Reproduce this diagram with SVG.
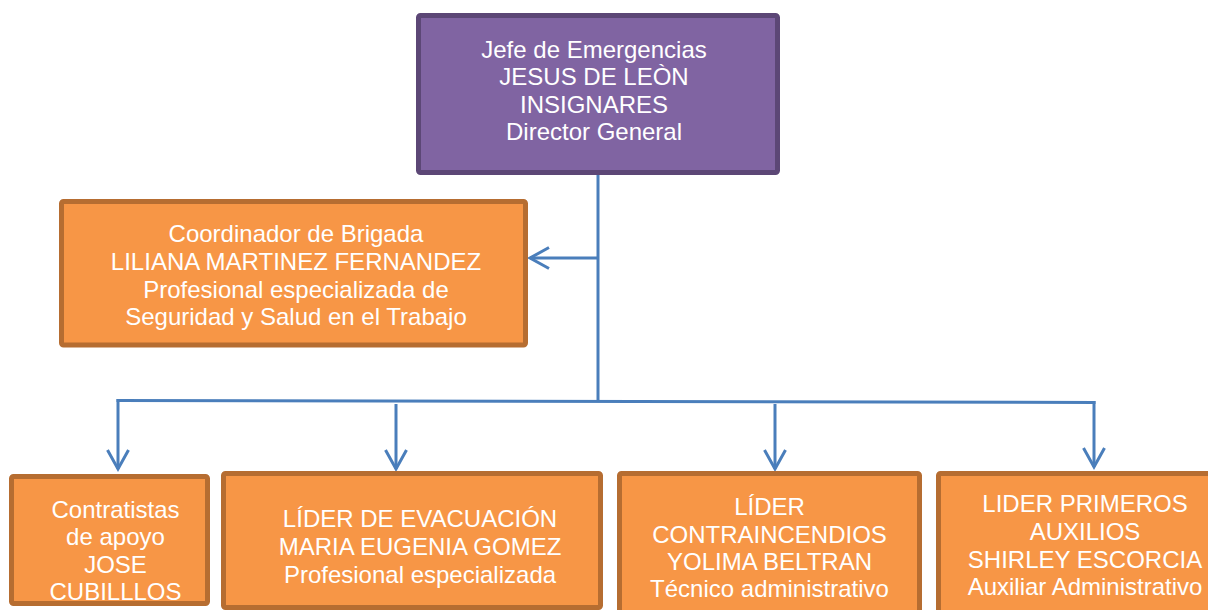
<svg xmlns="http://www.w3.org/2000/svg" width="1208" height="610" viewBox="0 0 1208 610">
<style>
.box{fill:#f79646;stroke:#b66d31;stroke-width:5}
.top{fill:#8064a2;stroke:#5c4776;stroke-width:5}
text{font-family:"Liberation Sans",Arial,sans-serif;font-size:24px;fill:#ffffff;text-anchor:middle}
.con{fill:none;stroke:#4a7ebb;stroke-width:3}
.arr{marker-end:url(#arr)}
</style>
<defs>
<marker id="arr" markerUnits="userSpaceOnUse" viewBox="-24 -14 28 28" markerWidth="28" markerHeight="28" refX="0" refY="0" orient="auto">
<path d="M-19,-10.5 L0,0 L-19,10.5" fill="none" stroke="#4a7ebb" stroke-width="3"/>
</marker>
</defs>
<rect width="1208" height="610" fill="#ffffff"/>
<g id="connectors">
<path class="con" d="M598,173 V401"/>
<path class="con arr" d="M598,258 H530"/>
<path class="con" d="M116.5,400.5 L1095.5,402.5"/>
<path class="con arr" d="M118,399 V469"/>
<path class="con arr" d="M396,404 V469"/>
<path class="con arr" d="M775,404 V469"/>
<path class="con arr" d="M1094,401 V467"/>
</g>
<g id="jefe">
<rect class="top" x="418.5" y="15.5" width="359" height="157" rx="2"/>
<text x="594" y="57.5">Jefe de Emergencias</text>
<text x="594" y="85">JESUS DE LEÒN</text>
<text x="594" y="112.5">INSIGNARES</text>
<text x="594" y="140">Director General</text>
</g>
<g id="coordinador">
<rect class="box" x="61.5" y="201.5" width="464" height="143.5" rx="2"/>
<text x="296" y="242">Coordinador de Brigada</text>
<text x="296" y="270">LILIANA MARTINEZ FERNANDEZ</text>
<text x="296" y="297.5">Profesional especializada de</text>
<text x="296" y="325">Seguridad y Salud en el Trabajo</text>
</g>
<g id="contratistas">
<rect class="box" x="11.5" y="476.5" width="196" height="127" rx="2"/>
<text x="115.5" y="518">Contratistas</text>
<text x="115.5" y="545">de apoyo</text>
<text x="115.5" y="573">JOSE</text>
<text x="115.5" y="600">CUBILLLOS</text>
</g>
<g id="evacuacion">
<rect class="box" x="223.5" y="473.5" width="377" height="134" rx="2"/>
<text x="420" y="527">LÍDER DE EVACUACIÓN</text>
<text x="420" y="555">MARIA EUGENIA GOMEZ</text>
<text x="420" y="583">Profesional especializada</text>
</g>
<g id="contraincendios">
<rect class="box" x="619.5" y="473.5" width="300" height="150" rx="2"/>
<text x="769.5" y="515">LÍDER</text>
<text x="769.5" y="543">CONTRAINCENDIOS</text>
<text x="769.5" y="570">YOLIMA BELTRAN</text>
<text x="769.5" y="597">Técnico administrativo</text>
</g>
<g id="primeros-auxilios">
<rect class="box" x="938.5" y="473.5" width="290" height="150" rx="2"/>
<text x="1085" y="512">LIDER PRIMEROS</text>
<text x="1085" y="539.5">AUXILIOS</text>
<text x="1085" y="567.5">SHIRLEY ESCORCIA</text>
<text x="1085" y="595">Auxiliar Administrativo</text>
</g>
</svg>
